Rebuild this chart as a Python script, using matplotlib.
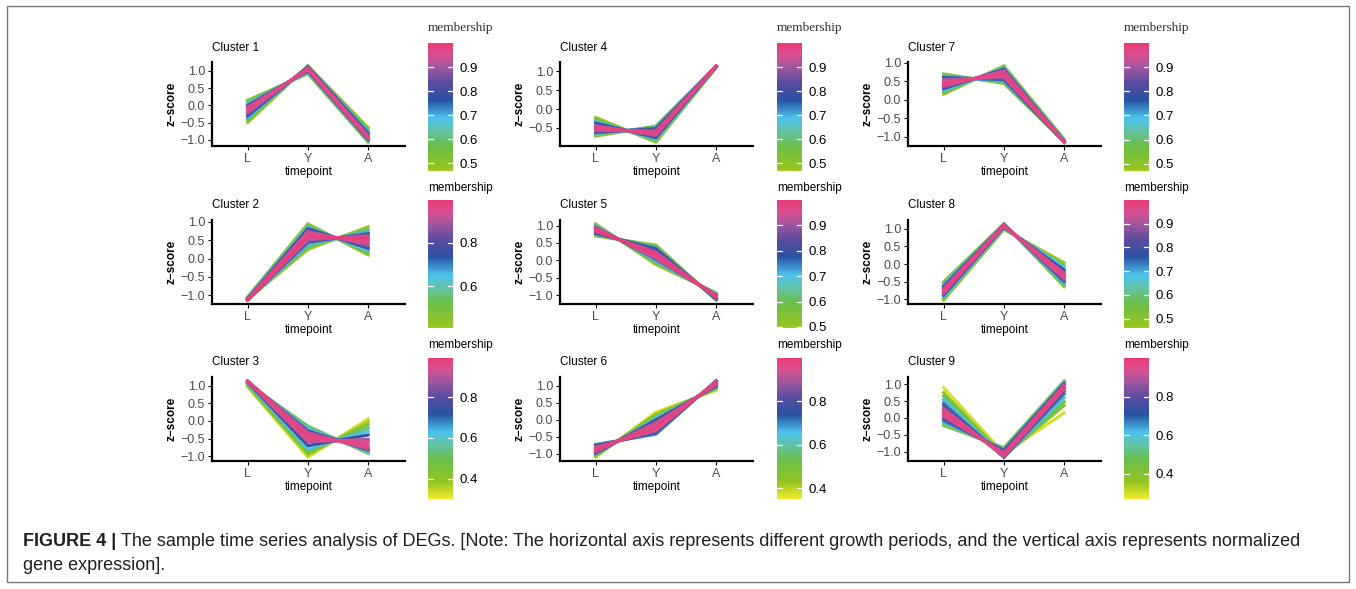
import numpy as np
import matplotlib
matplotlib.use('Agg')
import matplotlib.pyplot as plt
from matplotlib.colors import LinearSegmentedColormap, ListedColormap, Normalize
from matplotlib.patches import Rectangle
from matplotlib.ticker import MultipleLocator, FuncFormatter

plt.rcParams['font.family'] = ['Liberation Sans', 'DejaVu Sans']

timepoints = ['L', 'Y', 'A']

# rows: z-score at L, Y, A, membership
cluster1 = [[0.15, 0.92, -1.07, 0.48], [-0.50, 1.15, -0.65, 0.48], [0.10, 0.95, -1.05, 0.58],
            [-0.42, 1.14, -0.72, 0.58], [0.05, 0.97, -1.02, 0.68], [-0.36, 1.13, -0.77, 0.70],
            [0.00, 1.00, -1.00, 0.78], [-0.30, 1.12, -0.82, 0.78], [-0.03, 1.02, -0.99, 0.86],
            [-0.25, 1.11, -0.86, 0.86], [-0.06, 1.03, -0.97, 0.93], [-0.20, 1.09, -0.89, 0.93],
            [-0.15, 1.07, -0.92, 0.95], [-0.10, 1.05, -0.95, 0.97]]
cluster2 = [[-1.05, 0.95, 0.10, 0.45], [-1.12, 0.25, 0.87, 0.42], [-1.07, 0.90, 0.17, 0.55],
            [-1.12, 0.32, 0.80, 0.55], [-1.08, 0.85, 0.23, 0.65], [-1.13, 0.40, 0.73, 0.66],
            [-1.10, 0.82, 0.28, 0.78], [-1.13, 0.45, 0.68, 0.78], [-1.11, 0.75, 0.36, 0.88],
            [-1.14, 0.50, 0.64, 0.88], [-1.13, 0.55, 0.58, 0.93], [-1.12, 0.70, 0.42, 0.95],
            [-1.12, 0.65, 0.47, 0.96], [-1.14, 0.60, 0.54, 0.98]]
cluster3 = [[0.97, -1.03, 0.06, 0.32], [0.99, -0.98, -0.01, 0.36], [1.02, -0.92, -0.10, 0.45],
            [1.07, -0.15, -0.92, 0.50], [1.05, -0.85, -0.20, 0.52], [1.08, -0.78, -0.30, 0.62],
            [1.09, -0.22, -0.87, 0.62], [1.10, -0.70, -0.40, 0.75], [1.11, -0.28, -0.83, 0.78],
            [1.12, -0.60, -0.52, 0.88], [1.13, -0.33, -0.80, 0.90], [1.12, -0.55, -0.57, 0.93],
            [1.13, -0.48, -0.65, 0.95], [1.14, -0.40, -0.74, 0.97]]
cluster4 = [[-0.22, -0.88, 1.10, 0.48], [-0.72, -0.45, 1.15, 0.50], [-0.28, -0.84, 1.12, 0.58],
            [-0.68, -0.47, 1.14, 0.60], [-0.33, -0.80, 1.12, 0.68], [-0.64, -0.50, 1.14, 0.70],
            [-0.37, -0.76, 1.13, 0.78], [-0.62, -0.52, 1.14, 0.80], [-0.42, -0.72, 1.14, 0.87],
            [-0.58, -0.56, 1.14, 0.88], [-0.55, -0.60, 1.15, 0.93], [-0.46, -0.68, 1.14, 0.95],
            [-0.50, -0.64, 1.14, 0.98]]
cluster5 = [[1.05, -0.12, -0.93, 0.50], [0.70, 0.44, -1.14, 0.52], [1.02, -0.07, -0.95, 0.60],
            [0.73, 0.40, -1.13, 0.60], [0.99, -0.02, -0.97, 0.70], [0.76, 0.36, -1.12, 0.72],
            [0.96, 0.03, -0.99, 0.80], [0.78, 0.33, -1.11, 0.80], [0.93, 0.08, -1.01, 0.88],
            [0.82, 0.26, -1.08, 0.88], [0.95, 0.05, -1.00, 0.93], [0.84, 0.22, -1.06, 0.94],
            [0.90, 0.12, -1.02, 0.96], [0.87, 0.17, -1.04, 0.99]]
cluster6 = [[-1.10, 0.23, 0.87, 0.36], [-1.08, 0.18, 0.90, 0.42], [-1.05, 0.12, 0.93, 0.50],
            [-0.72, -0.43, 1.15, 0.62], [-1.02, 0.06, 0.96, 0.62], [-0.75, -0.40, 1.15, 0.75],
            [-0.99, 0.00, 0.99, 0.78], [-0.78, -0.36, 1.14, 0.85], [-0.96, -0.05, 1.01, 0.85],
            [-0.93, -0.11, 1.04, 0.93], [-0.82, -0.30, 1.12, 0.95], [-0.90, -0.17, 1.07, 0.96],
            [-0.86, -0.24, 1.10, 0.98]]
cluster7 = [[0.15, 0.92, -1.07, 0.48], [0.70, 0.44, -1.14, 0.50], [0.20, 0.89, -1.09, 0.58],
            [0.66, 0.48, -1.14, 0.60], [0.25, 0.86, -1.11, 0.68], [0.63, 0.51, -1.14, 0.70],
            [0.30, 0.83, -1.13, 0.80], [0.60, 0.55, -1.15, 0.78], [0.34, 0.80, -1.14, 0.87],
            [0.56, 0.59, -1.15, 0.88], [0.52, 0.63, -1.15, 0.93], [0.38, 0.77, -1.15, 0.95],
            [0.48, 0.67, -1.15, 0.96], [0.43, 0.72, -1.15, 0.98]]
cluster8 = [[-1.02, 0.98, 0.04, 0.47], [-0.50, 1.14, -0.64, 0.48], [-0.97, 1.01, -0.04, 0.58],
            [-0.55, 1.14, -0.59, 0.60], [-0.93, 1.03, -0.10, 0.68], [-0.60, 1.13, -0.53, 0.70],
            [-0.88, 1.05, -0.17, 0.78], [-0.64, 1.12, -0.48, 0.80], [-0.84, 1.07, -0.23, 0.88],
            [-0.68, 1.11, -0.43, 0.88], [-0.70, 1.11, -0.41, 0.93], [-0.72, 1.10, -0.38, 0.95],
            [-0.80, 1.08, -0.28, 0.96], [-0.76, 1.09, -0.33, 0.98]]
cluster9 = [[0.90, -1.05, 0.15, 0.30], [0.75, -1.12, 0.37, 0.40], [-0.22, -0.88, 1.10, 0.42],
            [0.65, -1.14, 0.48, 0.48], [-0.15, -0.92, 1.07, 0.55], [0.55, -1.15, 0.60, 0.58],
            [0.45, -1.16, 0.71, 0.66], [-0.08, -0.95, 1.03, 0.68], [-0.02, -0.98, 1.00, 0.78],
            [0.38, -1.16, 0.78, 0.78], [0.30, -1.15, 0.85, 0.86], [0.04, -1.02, 0.98, 0.86],
            [0.25, -1.13, 0.88, 0.93], [0.20, -1.11, 0.91, 0.95], [0.08, -1.05, 0.97, 0.96],
            [0.14, -1.08, 0.94, 0.98]]

clusters = [cluster1, cluster2, cluster3, cluster4, cluster5, cluster6, cluster7, cluster8, cluster9]
cluster_names = ['Cluster %d' % (i + 1) for i in range(9)]
member_lo = [0.467, 0.41, 0.30, 0.468, 0.496, 0.35, 0.47, 0.46, 0.27]
member_hi = [1.0, 0.995, 0.992, 1.0, 1.0, 1.0, 1.0, 1.0, 1.0]
member_ticks = [[0.5, 0.6, 0.7, 0.8, 0.9], [0.6, 0.8], [0.4, 0.6, 0.8],
                [0.5, 0.6, 0.7, 0.8, 0.9], [0.5, 0.6, 0.7, 0.8, 0.9], [0.4, 0.6, 0.8],
                [0.5, 0.6, 0.7, 0.8, 0.9], [0.5, 0.6, 0.7, 0.8, 0.9], [0.4, 0.6, 0.8]]

palette = LinearSegmentedColormap.from_list('mfuzz', [
    (0.00, '#F2EC2D'), (0.12, '#93C521'), (0.28, '#6BBF4E'), (0.38, '#63C3A6'),
    (0.47, '#4CC4EE'), (0.60, '#2A52A4'), (0.72, '#5A4C9F'), (0.83, '#A0579F'),
    (0.92, '#D9508F'), (1.00, '#EC3A78')])

W, H = 1356, 589
fig = plt.figure(figsize=(W / 100, H / 100), dpi=100)


def rect(x0, y0, x1, y1):
    return [x0 / W, 1 - y1 / H, (x1 - x0) / W, (y1 - y0) / H]


col_left = [212, 560, 908]
row_top = [62, 220, 377]
title_row_y = [48, 205, 362]
ax_w, ax_h = 193, 84
cb_left = [428, 777, 1124]
cb_top = [43, 200, 358]
cb_bot = [171, 328, 499]
tick_fmt = FuncFormatter(lambda v, p: ('%.1f' % v).replace('-', '\u2212'))

for i, data in enumerate(clusters):
    col, row = i // 3, i % 3
    arr = np.array(data)
    arr = arr[np.argsort(arr[:, 3])]
    lo, hi = member_lo[i], member_hi[i]
    start = 0.0 if lo < 0.38 else 0.1
    cmap = ListedColormap(palette(np.linspace(start, 1, 256)))
    norm = Normalize(lo, hi)

    x0, y0 = col_left[col], row_top[row]
    ax = fig.add_axes(rect(x0, y0, x0 + ax_w, y0 + ax_h))
    for r in arr:
        ax.plot([1, 2, 3], r[:3], color=cmap(norm(r[3])), lw=2.2, solid_joinstyle='miter')
    zmin, zmax = arr[:, :3].min(), arr[:, :3].max()
    pad = 0.05 * (zmax - zmin)
    ax.set_ylim(zmin - pad, zmax + pad)
    ax.set_xlim(0.41, 3.61)
    ax.set_xticks([1, 2, 3], timepoints)
    ax.yaxis.set_major_locator(MultipleLocator(0.5))
    ax.yaxis.set_major_formatter(tick_fmt)
    ax.spines[['top', 'right']].set_visible(False)
    ax.spines[['left', 'bottom']].set_linewidth(1.6)
    ax.tick_params(length=3, width=0.8, pad=2, labelsize=9, labelcolor='#4d4d4d')
    ax.set_xlabel('timepoint', fontsize=8.5, labelpad=1)
    ax.set_ylabel('z\u2212score', fontsize=8.5, fontweight='bold', labelpad=2)
    fig.text(x0 / W, 1 - title_row_y[row] / H, cluster_names[i], fontsize=8.5,
             va='center', ha='left')

    cax = fig.add_axes(rect(cb_left[col], cb_top[row], cb_left[col] + 25, cb_bot[row]))
    grad = np.linspace(lo, hi, 256).reshape(-1, 1)
    cax.imshow(grad, cmap=cmap, norm=norm, aspect='auto', origin='lower', extent=[0, 1, lo, hi])
    for t in member_ticks[i]:
        cax.plot([0, 0.2], [t, t], color='white', lw=0.9)
        cax.plot([0.8, 1], [t, t], color='white', lw=0.9)
    cax.set_xlim(0, 1)
    cax.set_ylim(lo, hi)
    cax.set_xticks([])
    cax.yaxis.tick_right()
    cax.set_yticks(member_ticks[i], ['%.1f' % t for t in member_ticks[i]])
    cax.tick_params(axis='y', length=0, pad=5, labelsize=9.5)
    for s in cax.spines.values():
        s.set_visible(False)
    title_y = [28, 188, 345][row]
    if row == 0:
        fig.text(cb_left[col] / W, 1 - title_y / H, 'membership', fontsize=9.5,
                 family='Liberation Serif', va='center', ha='left', color='#333333')
    else:
        fig.text(cb_left[col] / W, 1 - title_y / H, 'membership', fontsize=8.5,
                 va='center', ha='left')

# border and caption
fig.patches.append(Rectangle((7 / W, 1 - 582 / H), 1342 / W, 576 / H, transform=fig.transFigure,
                             fill=False, edgecolor='#777777', lw=1))
cap1 = fig.text(23 / W, 1 - 541 / H, 'FIGURE 4 |', fontsize=13, fontweight='bold',
                va='center', ha='left', color='#231f20')
fig.canvas.draw()
bb = cap1.get_window_extent()
fig.text((bb.x1 + 5) / W, 1 - 541 / H,
         'The sample time series analysis of DEGs. [Note: The horizontal axis represents '
         'different growth periods, and the vertical axis represents normalized',
         fontsize=13, va='center', ha='left', color='#231f20')
fig.text(23 / W, 1 - 566 / H, 'gene expression].', fontsize=13, va='center', ha='left',
         color='#231f20')

fig.savefig('out.png', dpi=100)
